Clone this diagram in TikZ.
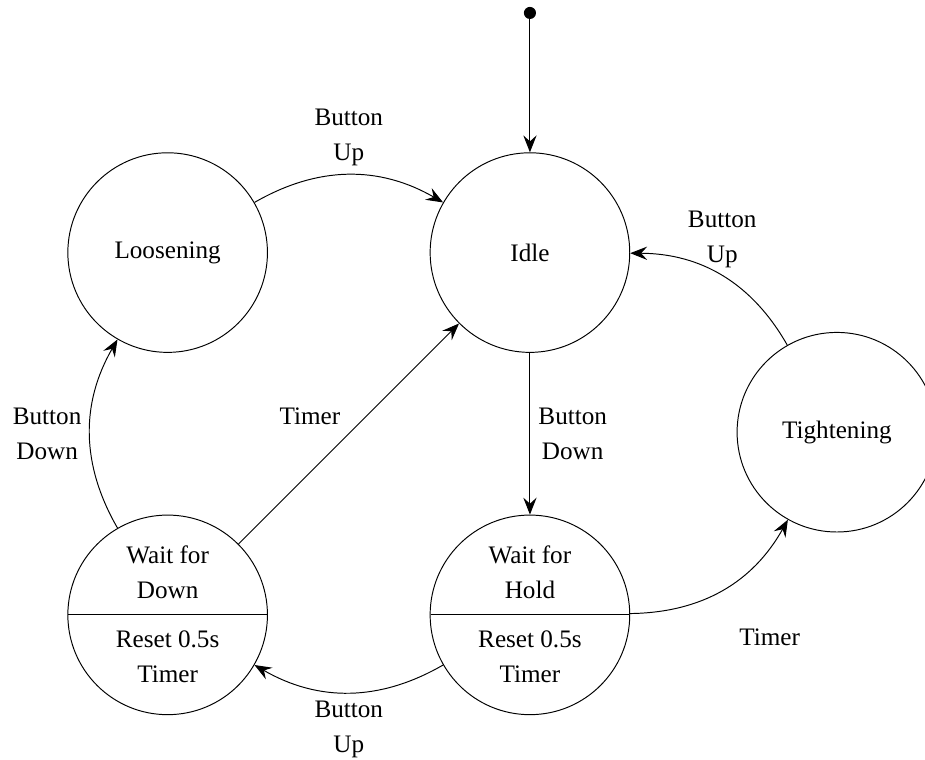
\documentclass[tikz,border=0pt]{standalone}
\usepackage{fontspec}
\setmainfont{Liberation Serif}
\newfontfamily\diagfont{Liberation Serif}
\usetikzlibrary{arrows.meta,positioning,shapes.multipart}

\begin{document}
\begin{tikzpicture}
	[font=\diagfont\fontsize{10.4}{14.5}\selectfont, auto,
	>={Stealth[length=7pt,width=5.5pt,inset=2.5pt]},
	% STYLES
	% The state style is used for the plain states
	state/.style={circle, draw, minimum size=2.9cm, align=center},
	% The action style is used for the states with a timer action
	action/.style={circle split, draw, minimum size=2.9cm, inner xsep=0pt, inner ysep=6.5pt, align=center},
	% The start style is used for the initial dot
	start/.style={circle, fill, inner sep=0pt, minimum size=5pt},
	% The trans style is used for the transition labels
	trans/.style={align=center}]

	\useasboundingbox (-7.70,-7.36) rectangle (5.74,3.67);

	% states top
	\node [state] (Idle) {Idle};
	\node [state, left = 2.35cm of Idle] (Loosening) {Loosening};
	\node [start, above = 1.93cm of Idle] (Start) {};
	% states bottom
	\node [action, below = 2.35cm of Idle] (Hold) {Wait for\\Hold \nodepart{lower} Reset 0.5s\\Timer};
	\node [action, left = 2.35cm of Hold] (Down) {Wait for\\Down \nodepart{lower} Reset 0.5s\\Timer};
	% state right
	\node [state] (Tightening) at (4.46,-2.61) {Tightening};
	% Draw the transitions between the states
	\path[->]
	(Start) edge (Idle)
	(Loosening) edge [bend left=30] node [trans, above] {Button\\Up} (Idle)
	(Tightening) edge [bend right=30] node [trans, above] {Button\\Up} (Idle)
	(Idle) edge node [trans, right] {Button\\Down} (Hold)
	(Hold) edge [bend right=30] node [trans, below right=12.8pt and 3.3pt] {Timer} (Tightening)
	(Hold) edge [bend left=30] node [trans, below] {Button\\Up} (Down)
	(Down) edge [bend left=30] node [trans, left] {Button\\Down} (Loosening)
	(Down) edge node [trans, above left] {Timer} (Idle);

\end{tikzpicture}
\end{document}
